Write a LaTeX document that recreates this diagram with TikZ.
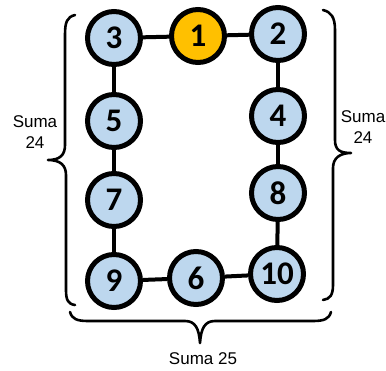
\documentclass[tikz,border=0pt]{standalone}
\usepackage{fontspec}
\setmainfont{Liberation Sans}
\newfontfamily\numfont{Carlito}
\definecolor{nodeblue}{HTML}{BDD7EE}
\definecolor{nodeorange}{HTML}{FFC000}
\begin{document}
\begin{tikzpicture}[x=1pt,y=-1pt,
  num/.style={circle,draw=black,line width=5pt,fill=nodeblue,minimum size=53pt,inner sep=0pt,
    font=\numfont\bfseries\fontsize{33}{33}\selectfont},
  hot/.style={num,fill=nodeorange},
  link/.style={line width=4pt},
  bracestyle/.style={line width=2.6pt,line cap=round,line join=round},
  lbl/.style={font=\fontsize{17}{21}\selectfont,align=center,inner sep=0pt}]
\useasboundingbox (0,0) rectangle (386,370);
\coordinate (p3) at (114,38);
\coordinate (p1) at (198,36);
\coordinate (p2) at (278,34);
\coordinate (p5) at (114,121);
\coordinate (p4) at (278,116);
\coordinate (p7) at (114,200);
\coordinate (p8) at (278,193);
\coordinate (p9) at (114,281);
\coordinate (p6) at (196,278);
\coordinate (p10) at (277,274);
\node[num] (n3) at (p3) {3};
\node[hot] (n1) at (p1) {1};
\node[num] (n2) at (p2) {2};
\node[num] (n5) at (p5) {5};
\node[num] (n4) at (p4) {4};
\node[num] (n7) at (p7) {7};
\node[num] (n8) at (p8) {8};
\node[num] (n9) at (p9) {9};
\node[num] (n6) at (p6) {6};
\node[num] (n10) at (p10) {10};
\begin{scope}[link]
\draw (n3) -- (n1);
\draw (n1) -- (n2);
\draw (n2) -- (n4);
\draw (n4) -- (n8);
\draw (n8) -- (n10);
\draw (n10) -- (n6);
\draw (n6) -- (n9);
\draw (n9) -- (n7);
\draw (n7) -- (n5);
\draw (n5) -- (n3);
\end{scope}
% left brace
\draw[bracestyle] (75,15) .. controls (67,17) and (65,22) .. (65,35) -- (65,145)
  .. controls (65,155) and (60,160) .. (48,160)
  .. controls (60,160) and (66,165) .. (66,175) -- (66,290)
  .. controls (66,300) and (68,304) .. (75,305);
% right brace
\draw[bracestyle] (323,10) .. controls (331,12) and (335,17) .. (335,30) -- (335,140)
  .. controls (335,150) and (340,153) .. (351,153)
  .. controls (340,153) and (333,158) .. (333,168) -- (333,285)
  .. controls (333,295) and (330,299) .. (323,300);
% bottom brace
\draw[bracestyle] (70,312) .. controls (72,319) and (77,321) .. (88,321) -- (185,321)
  .. controls (195,321) and (199,328) .. (200,343)
  .. controls (201,328) and (205,321) .. (215,321) -- (313,321)
  .. controls (324,321) and (329,319) .. (331,312);
\node[lbl] (lsum) at (35,132) {Suma\\24};
\node[lbl] (rsum) at (363,127) {Suma\\24};
\node[lbl] (bsum) at (203,359) {Suma 25};
\end{tikzpicture}
\end{document}
